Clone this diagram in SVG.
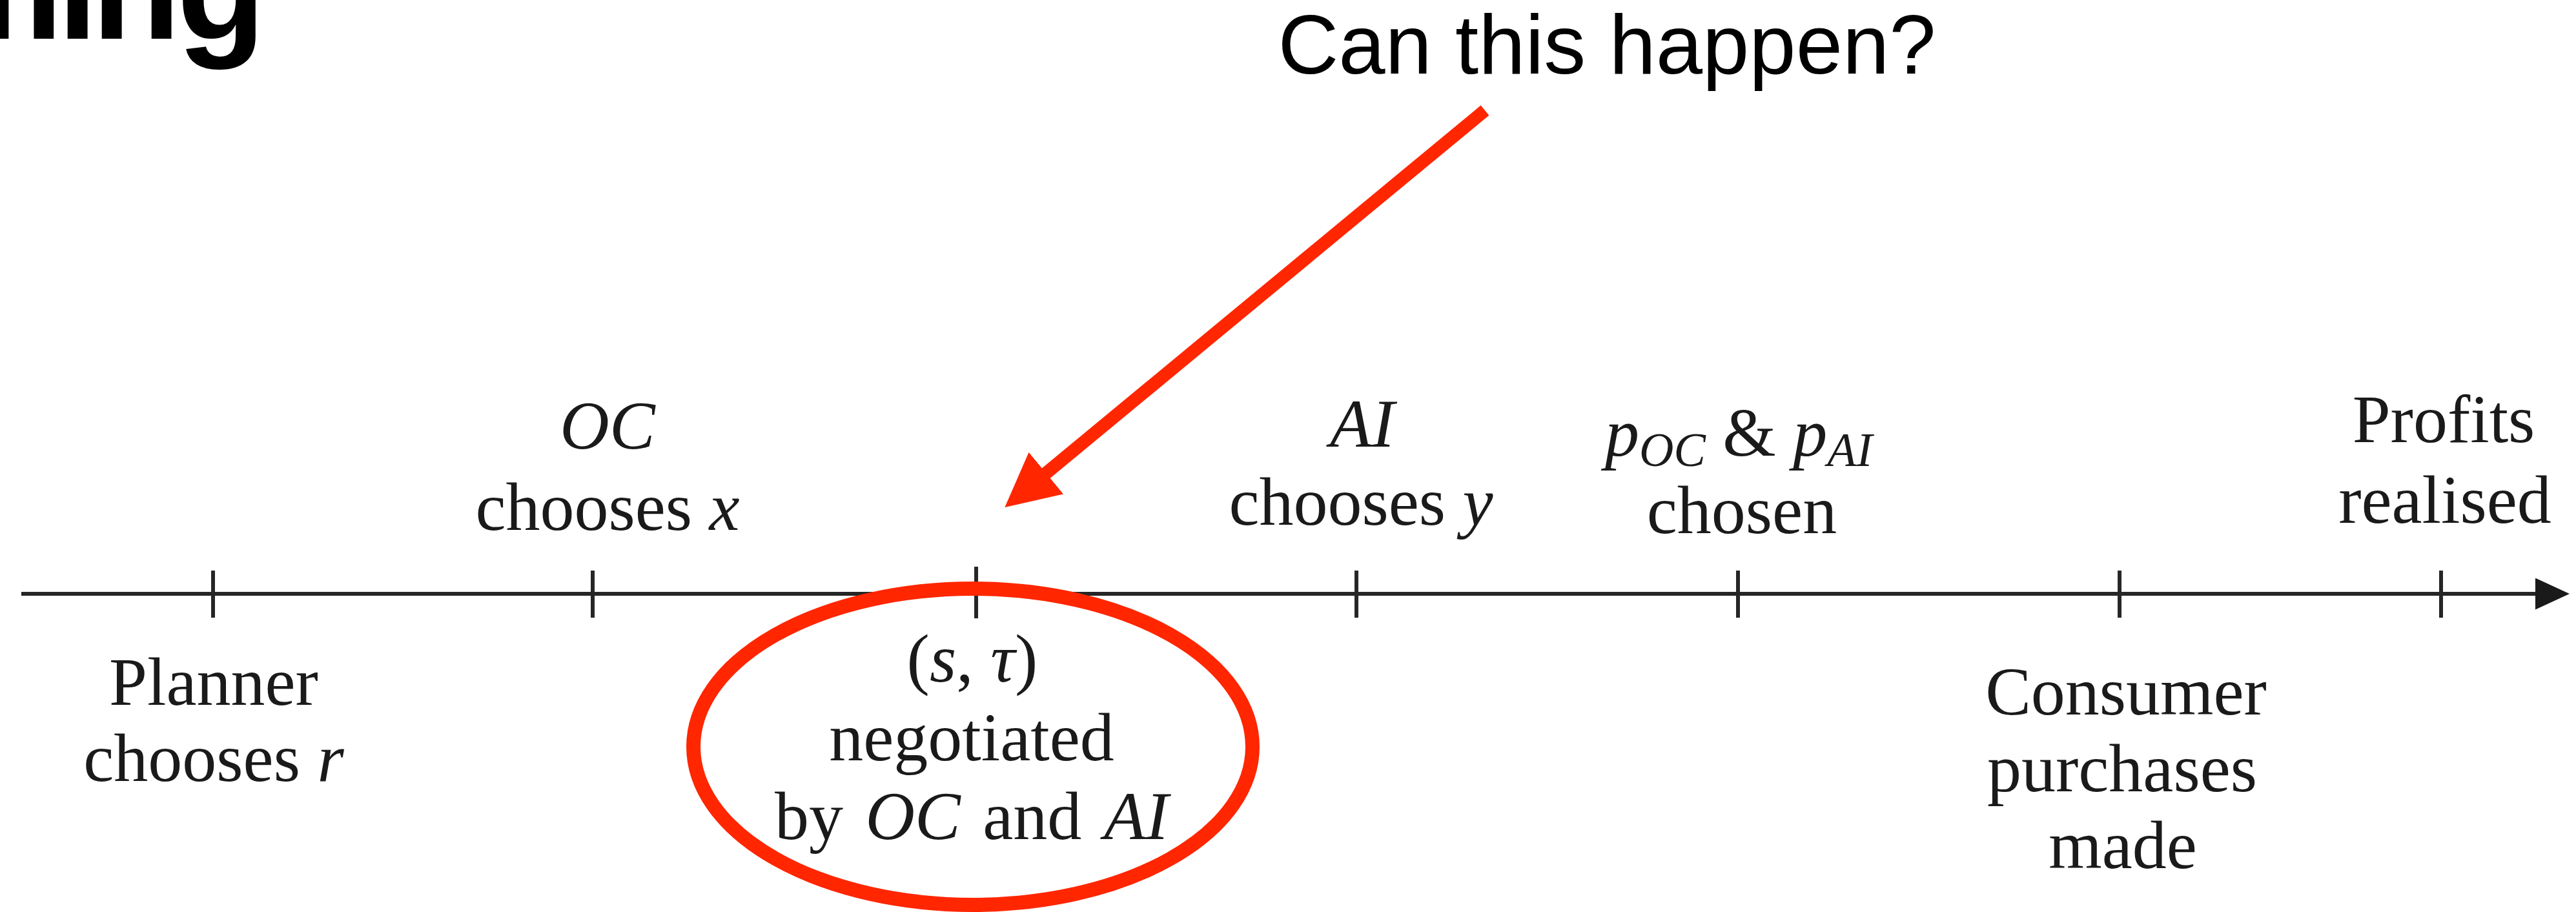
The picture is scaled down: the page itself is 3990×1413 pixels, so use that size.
<svg xmlns="http://www.w3.org/2000/svg" width="3990" height="1413" viewBox="0 0 3990 1413">
<defs>
<style>
.lbl{font-family:"Liberation Serif","Times New Roman",serif;font-size:106px;fill:#1a1a1a;text-anchor:middle}
.it{font-style:italic}
.sub{font-style:italic;font-size:74px}
.tick{stroke:#262626;stroke-width:6}
.red{stroke:#FF2600;fill:none}
</style>
<marker id="axisHead" markerUnits="userSpaceOnUse" markerWidth="56" markerHeight="50" refX="1" refY="24.5" orient="auto">
<path d="M0,0 L53,24.5 L0,49 z" fill="#1a1a1a"/>
</marker>
<marker id="redHead" markerUnits="userSpaceOnUse" markerWidth="86" markerHeight="86" refX="3" refY="42" orient="auto">
<path d="M0,0 L83,42 L0,84 z" fill="#FF2600"/>
</marker>
</defs>
<rect width="3990" height="1413" fill="#ffffff"/>

<g id="title">
<text x="-103 89 142 274" y="60" font-family="Liberation Sans, Arial, sans-serif" font-weight="bold" font-size="225" fill="#000">ming</text>
</g>

<g id="connectors">
<line x1="33" y1="920" x2="3928" y2="920" stroke="#262626" stroke-width="6" marker-end="url(#axisHead)"/>
<line class="red" x1="2300" y1="171" x2="1618" y2="735" stroke-width="20" marker-end="url(#redHead)"/>
</g>

<g id="callout">
<text x="2489" y="114" font-family="Liberation Sans, Arial, sans-serif" font-size="130" fill="#000" text-anchor="middle">Can this happen?</text>
</g>

<g id="e1">
<line class="tick" x1="330" y1="884" x2="330" y2="957"/>
<text class="lbl" x="331" y="1092">Planner</text>
<text class="lbl" x="331" y="1210">chooses <tspan class="it">r</tspan></text>
</g>

<g id="e2">
<line class="tick" x1="918" y1="884" x2="918" y2="957"/>
<text class="lbl it" x="941" y="695">OC</text>
<text class="lbl" x="941" y="821">chooses <tspan class="it">x</tspan></text>
</g>

<g id="e3">
<line class="tick" x1="1512" y1="878" x2="1512" y2="958"/>
<text class="lbl" x="1506" y="1056">(<tspan class="it">s</tspan>, <tspan class="it">τ</tspan>)</text>
<text class="lbl" x="1505" y="1178">negotiated</text>
<text class="lbl" x="1505" y="1300" word-spacing="8">by <tspan class="it">OC</tspan> and <tspan class="it">AI</tspan></text>
</g>

<g id="e4">
<line class="tick" x1="2101" y1="884" x2="2101" y2="957"/>
<text class="lbl it" x="2110" y="692">AI</text>
<text class="lbl" x="2108" y="813">chooses <tspan class="it">y</tspan></text>
</g>

<g id="e5">
<line class="tick" x1="2692" y1="884" x2="2692" y2="957"/>
<text class="lbl" x="2693" y="706"><tspan class="it">p</tspan><tspan class="sub" dy="16">OC</tspan><tspan dy="-16"> &amp; </tspan><tspan class="it">p</tspan><tspan class="sub" dy="16">AI</tspan></text>
<text class="lbl" x="2698" y="826">chosen</text>
</g>

<g id="e6">
<line class="tick" x1="3283" y1="884" x2="3283" y2="957"/>
<text class="lbl" x="3293" y="1107">Consumer</text>
<text class="lbl" x="3287" y="1226">purchases</text>
<text class="lbl" x="3288" y="1345">made</text>
</g>

<g id="e7">
<line class="tick" x1="3781" y1="884" x2="3781" y2="957"/>
<text class="lbl" x="3785" y="685">Profits</text>
<text class="lbl" x="3787" y="810">realised</text>
</g>

<g id="highlight">
<ellipse class="red" cx="1507" cy="1157" rx="433" ry="245" stroke-width="22"/>
</g>
</svg>
